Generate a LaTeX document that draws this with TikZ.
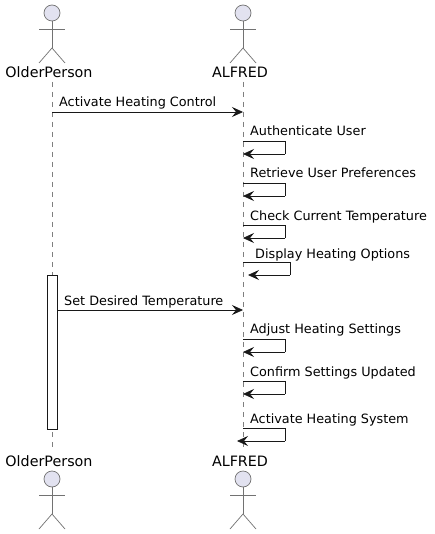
\documentclass[tikz,border=0pt]{standalone}
\usepackage{fontspec}
\setmainfont{DejaVu Sans}
\usepackage{tikz}
\usetikzlibrary{arrows.meta,calc,positioning}
\usepackage{xcolor}
\definecolor{actorfill}{HTML}{E2E2F0}
\definecolor{linegray}{HTML}{7F7F7F}
\definecolor{msgblack}{HTML}{181818}
\tikzset{
  lifeline/.style={linegray, line width=0.6pt, dash pattern=on 5pt off 5pt},
  msgline/.style={msgblack, line width=0.8pt, -{Stealth[length=11pt,width=10pt,inset=4pt]}},
  selfline/.style={msgblack, line width=0.8pt},
  msglabel/.style={font=\fontsize{12.8}{15}\selectfont, text=black, inner sep=0pt, anchor=base west},
  actorname/.style={font=\fontsize{14.3}{16}\selectfont, text=black, inner sep=0pt, anchor=base},
  actorline/.style={linegray!90!black, line width=0.7pt},
}
\begin{document}
\begin{tikzpicture}[x=1pt, y=-1pt, >=Latex]
  \useasboundingbox (0,0) rectangle (435,534);
  \fill[white] (0,0) rectangle (435,534);
  % lifelines
  \coordinate (oldertop) at (52,82);
  \coordinate (olderbot) at (52,450);
  \coordinate (alfredtop) at (243,82);
  \coordinate (alfredbot) at (243,450);
  \draw[lifeline] (oldertop) -- (olderbot);
  \draw[lifeline] (alfredtop) -- (alfredbot);
  % actors
  \foreach \ax/\ay in {52/13, 243/13, 52/479, 243/479} {
    \draw[actorline, fill=actorfill] (\ax,\ay) circle (8);
    \draw[actorline] (\ax,\ay+8) -- (\ax,\ay+35);
    \draw[actorline] (\ax-13,\ay+16) -- (\ax+13,\ay+16);
    \draw[actorline] (\ax-13,\ay+50) -- (\ax,\ay+35) -- (\ax+13,\ay+50);
  }
  \node[actorname] (oldername) at (49,78) {OlderPerson};
  \node[actorname] (alfredname) at (240,78) {ALFRED};
  \node[actorname] (oldername2) at (49,466) {OlderPerson};
  \node[actorname] (alfredname2) at (240,466) {ALFRED};
  % activation
  \draw[msgblack, line width=0.7pt, fill=white] (47,275) rectangle (57,429);
  % messages between the two
  \coordinate (heatfrom) at (52,112);
  \coordinate (heatto) at (243,112);
  \draw[msgline] (heatfrom) -- (heatto);
  \node[msglabel] (heatlabel) at (59,106.7) {Activate Heating Control};
  \coordinate (setfrom) at (57,310);
  \coordinate (setto) at (243,310);
  \draw[msgline] (setfrom) -- (setto);
  \node[msglabel] (setlabel) at (64,305) {Set Desired Temperature};
  % self messages
  \foreach \ytop/\ybot/\ytxt/\xr/\xtip/\xtxt/\txt in {
    141.5/154/135.5/285/243/250/Authenticate User,
    183.5/196/178/285/243/250/Retrieve User Preferences,
    225.5/238/220.5/285/243/250/Check Current Temperature,
    262.5/275/258/290/248/255/Display Heating Options,
    339.5/352/333.5/285/243/250/Adjust Heating Settings,
    381.5/394/376/285/243/250/Confirm Settings Updated,
    428.5/441/423/285/237/250/Activate Heating System} {
    \coordinate (selfa) at (243,\ytop);
    \coordinate (selfb) at (\xr,\ytop);
    \coordinate (selfc) at (\xr,\ybot);
    \coordinate (selfd) at (\xtip,\ybot);
    \draw[selfline] (selfa) -- (selfb) -- (selfc);
    \draw[msgline] (selfc) -- (selfd);
    \node[msglabel] (selflabel) at (\xtxt,\ytxt) {\txt};
  }
\end{tikzpicture}
\end{document}
